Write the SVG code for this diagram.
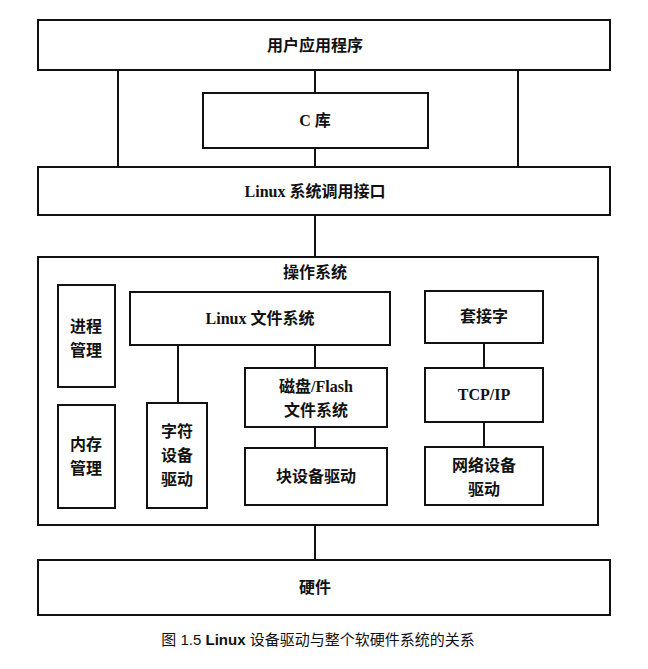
<svg xmlns="http://www.w3.org/2000/svg" width="648" height="669" viewBox="0 0 648 669">
<style>
.b{fill:#fff;stroke:#111;stroke-width:2}
.t{font-family:"Liberation Serif","Noto Sans CJK SC",serif;font-size:16px;fill:#111;text-anchor:middle;font-weight:bold}
.c line{stroke:#111;stroke-width:2}
</style>
<rect width="648" height="669" fill="#fff"/>
<g id="app"><rect class="b" x="38" y="20" width="572" height="50"/><text class="t" x="315" y="51">用户应用程序</text></g>
<g id="clib"><rect class="b" x="203" y="93" width="225" height="55"/><text class="t" x="315" y="126">C 库</text></g>
<g id="syscall"><rect class="b" x="38" y="167" width="572" height="48"/><text class="t" x="315" y="197">Linux 系统调用接口</text></g>
<g id="os"><rect class="b" x="38" y="257" width="560" height="268"/><text class="t" x="315" y="278">操作系统</text></g>
<g id="proc"><rect class="b" x="58" y="285" width="57" height="102"/><text class="t" x="86" y="332">进程</text><text class="t" x="86" y="356">管理</text></g>
<g id="mem"><rect class="b" x="58" y="405" width="57" height="103"/><text class="t" x="86" y="450">内存</text><text class="t" x="86" y="474">管理</text></g>
<g id="vfs"><rect class="b" x="130" y="292" width="260" height="53"/><text class="t" x="260" y="324">Linux 文件系统</text></g>
<g id="chr"><rect class="b" x="147" y="403" width="60" height="105"/><text class="t" x="177" y="437">字符</text><text class="t" x="177" y="461">设备</text><text class="t" x="177" y="485">驱动</text></g>
<g id="disk"><rect class="b" x="245" y="368" width="142" height="59"/><text class="t" x="316" y="392">磁盘/Flash</text><text class="t" x="316" y="416">文件系统</text></g>
<g id="blk"><rect class="b" x="245" y="448" width="142" height="57"/><text class="t" x="316" y="482">块设备驱动</text></g>
<g id="sock"><rect class="b" x="425" y="291" width="118" height="52"/><text class="t" x="484" y="322">套接字</text></g>
<g id="tcp"><rect class="b" x="425" y="368" width="118" height="54"/><text class="t" x="484" y="400">TCP/IP</text></g>
<g id="net"><rect class="b" x="425" y="447" width="118" height="58"/><text class="t" x="484" y="471">网络设备</text><text class="t" x="484" y="495">驱动</text></g>
<g id="hw"><rect class="b" x="38" y="560" width="572" height="55"/><text class="t" x="315" y="593">硬件</text></g>
<g class="c">
<line x1="118" y1="70" x2="118" y2="167"/><line x1="518" y1="70" x2="518" y2="167"/>
<line x1="315" y1="70" x2="315" y2="93"/><line x1="315" y1="148" x2="315" y2="167"/>
<line x1="315" y1="215" x2="315" y2="257"/>
<line x1="178" y1="345" x2="178" y2="403"/>
<line x1="315" y1="345" x2="315" y2="368"/><line x1="315" y1="427" x2="315" y2="448"/>
<line x1="484" y1="343" x2="484" y2="368"/><line x1="484" y1="422" x2="484" y2="447"/>
<line x1="315" y1="525" x2="315" y2="560"/>
</g>
<text x="318" y="645" style="font-family:'Liberation Sans','Noto Sans CJK SC',sans-serif;font-size:15px;text-anchor:middle;fill:#111">图 1.5 <tspan font-weight="bold">Linux</tspan> 设备驱动与整个软硬件系统的关系</text>
</svg>
